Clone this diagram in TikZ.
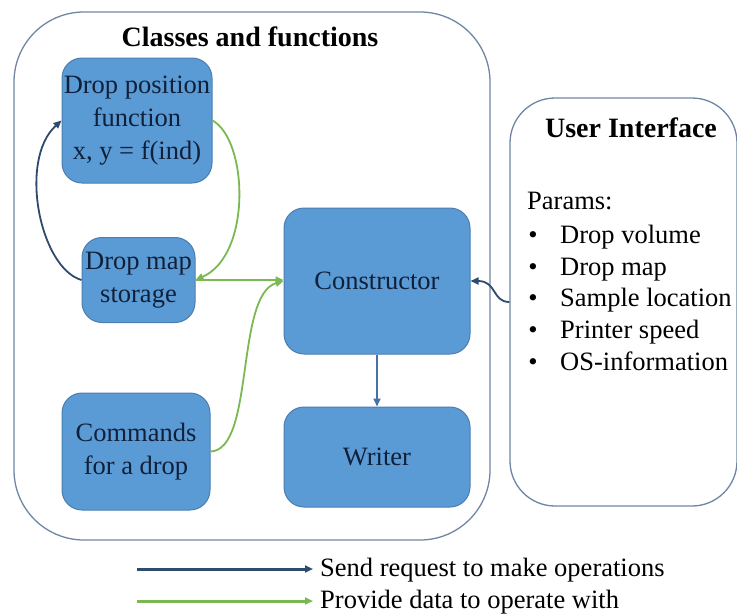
\documentclass[tikz,border=0pt]{standalone}
\usepackage{fontspec}
\setmainfont{LiberationSerif}[Extension=.ttf, UprightFont=*-Regular, BoldFont=*-Bold, ItalicFont=*-Italic, BoldItalicFont=*-BoldItalic]
\usetikzlibrary{arrows.meta}
\definecolor{boxfill}{HTML}{5B9BD5}
\definecolor{boxline}{HTML}{4A7DB0}
\definecolor{txt}{HTML}{10203A}
\definecolor{frame}{HTML}{6F85A3}
\definecolor{navy}{HTML}{2E4B6D}
\definecolor{midblue}{HTML}{4472A8}
\definecolor{grn}{HTML}{7AB951}
\begin{document}
\begin{tikzpicture}[x=1pt,y=-1pt,
  blk/.style={draw=boxline, line width=1pt, fill=boxfill, rounded corners=20pt, inner sep=0pt, align=center, text=txt, font=\fontsize{26.5}{33}\selectfont},
  panel/.style={draw=frame, line width=1.3pt, inner sep=0pt},
  req/.style={color=navy, line width=1.8pt, -{Triangle[length=8pt,width=7pt]}},
  dat/.style={color=grn, line width=1.8pt, -{Triangle[length=8pt,width=7pt]}},
  body/.style={font=\fontsize{26.5}{33}\selectfont, text=black, inner sep=0pt},
  head/.style={font=\fontsize{28}{33}\selectfont\bfseries, text=black, inner sep=0pt}]
\useasboundingbox (0,0) rectangle (737,616);

% panels
\node[panel, rounded corners=70pt, minimum width=476pt, minimum height=528pt] (cls) at (252,276) {};
\node[head] (clst) at (250,37) {Classes and functions};
\node[panel, rounded corners=45pt, minimum width=227pt, minimum height=408pt] (ui) at (623.5,302) {};
\node[head] (uit) at (631,128) {User Interface};
\node[body, anchor=mid west] (par) at (527,207) {Params:};
\foreach \i/\y/\t in {1/241/Drop volume, 2/273/Drop map, 3/304/Sample location, 4/336/Printer speed, 5/368/OS-information} {
  \node[body, anchor=mid] (b\i) at (533,\y) {\textbullet};
  \node[body, anchor=mid west] (t\i) at (560,\y) {\t};
}

% blocks
\node[blk, minimum width=150pt, minimum height=125pt] (dpf) at (137,120.5) {Drop position\\function\\x, y = f(ind)};
\node[blk, minimum width=113pt, minimum height=85pt] (dms) at (138.5,280) {Drop map\\storage};
\node[blk, minimum width=148pt, minimum height=117pt] (cmd) at (136,451.5) {Commands\\for a drop};
\node[blk, minimum width=186pt, minimum height=146pt] (con) at (377,281) {Constructor};
\node[blk, minimum width=186pt, minimum height=100pt] (wri) at (377,457) {Writer};

% connectors
\draw[req] (dms.west) .. controls (40,268) and (18,160) .. (dpf.west);
\draw[dat] (dpf.east) .. controls (248,140) and (252,255) .. (dms.east);
\draw[dat] (dms.east) -- (dms.east -| con.west);
\draw[dat] (cmd.east) .. controls (255,450) and (235,295) .. (con.west);
\draw[req, color=midblue] (con.south) -- (wri.north);
\draw[req] (ui.west) .. controls (492,302) and (497,281) .. (con.east);

% legend
\coordinate (l1s) at (137,569);
\coordinate (l1e) at (313,569);
\coordinate (l2s) at (137,601);
\coordinate (l2e) at (313,601);
\draw[req, line width=3pt] (l1s) -- (l1e);
\draw[dat, line width=3pt] (l2s) -- (l2e);
\node[body, anchor=mid west] (l1) at (320,574) {Send request to make operations};
\node[body, anchor=mid west] (l2) at (320,606) {Provide data to operate with};
\end{tikzpicture}
\end{document}
